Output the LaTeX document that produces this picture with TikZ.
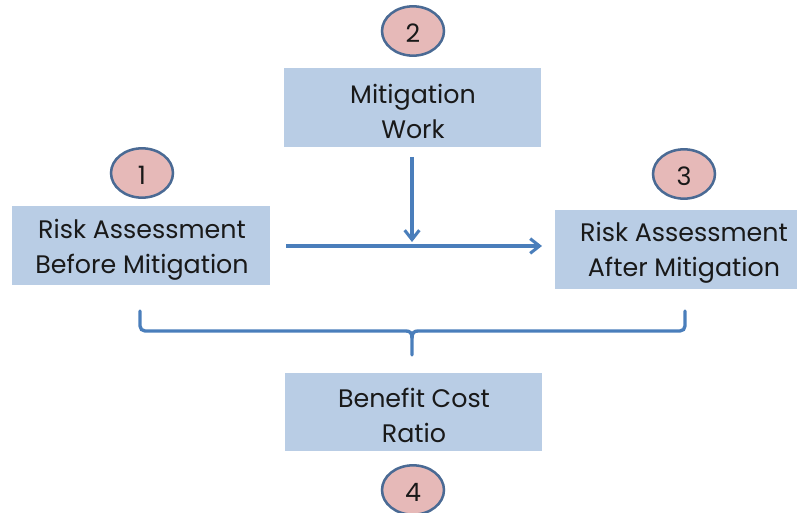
\documentclass[tikz,border=0pt]{standalone}
\usepackage{fontspec}
\setmainfont{Poppins}
\usetikzlibrary{arrows.meta}
\definecolor{boxfill}{HTML}{B9CDE5}
\definecolor{circfill}{HTML}{E6B9B8}
\definecolor{circline}{HTML}{4A6A94}
\definecolor{arrowcol}{HTML}{4A7EBB}
\tikzset{
  stepbox/.style={fill=boxfill, draw=none, minimum width=#1, minimum height=59.25pt, inner sep=0pt},
  steptext/.style={align=center, font=\fontsize{19}{26.25}\selectfont, inner sep=0pt, text=black!90},
  numtext/.style={font=\fontsize{19}{22}\selectfont, inner sep=0pt, text=black!90},
  flow/.style={draw=arrowcol, line width=2.3pt, -{Straight Barb[length=7pt,width=11pt,line width=2.3pt]}},
  bracestyle/.style={draw=arrowcol, line width=2.5pt, line cap=round},
  circstyle/.style={draw=circline, line width=1.9pt, fill=circfill}
}
\begin{document}
\begin{tikzpicture}[x=0.75pt,y=-0.75pt]
\useasboundingbox (0,0) rectangle (801,513);
% boxes
\node[stepbox=193.5pt] (b1) at (141,246) {};
\node[steptext] (t1) at (142,250) {Risk Assessment\\Before Mitigation};
\node[stepbox=192.75pt] (b2) at (412.5,107.5) {};
\node[steptext] (t2) at (413,111) {Mitigation\\Work};
\node[stepbox=181.5pt] (b3) at (676,250) {};
\node[steptext] (t3) at (684,253) {Risk Assessment\\After Mitigation};
\node[stepbox=192.75pt, minimum height=58.5pt] (b4) at (413.5,412) {};
\node[steptext] (t4) at (414,415) {Benefit Cost\\Ratio};
% circles
\path[circstyle] (142,173) ellipse [x radius=23.25pt, y radius=18.5pt];
\path[circstyle] (413,31) ellipse [x radius=23.25pt, y radius=18.5pt];
\path[circstyle] (684,174) ellipse [x radius=23.25pt, y radius=18.5pt];
\path[circstyle] (413,490) ellipse [x radius=23.25pt, y radius=18.5pt];
\node[numtext] (n1) at (142,175) {1};
\node[numtext] (n2) at (413,33) {2};
\node[numtext] (n3) at (684,176) {3};
\node[numtext] (n4) at (413,492) {4};
% arrows
\coordinate (hs) at (286,246);
\coordinate (he) at (542,246);
\coordinate (vs) at (412,157);
\coordinate (ve) at (412,242);
\draw[flow] (hs) -- (he);
\draw[flow] (vs) -- (ve);
% brace
\coordinate (bl) at (140,311);
\coordinate (br) at (685,311);
\coordinate (bm) at (412,355);
\draw[bracestyle] (bl) -- (140,326) arc[start angle=180, end angle=270, radius=3.75pt] -- (406,331) .. controls (410,331) and (412,333) .. (412,338) -- (bm);
\draw[bracestyle] (br) -- (685,326) arc[start angle=0, end angle=-90, radius=3.75pt] -- (418,331) .. controls (414,331) and (412,333) .. (412,338);
\end{tikzpicture}
\end{document}
